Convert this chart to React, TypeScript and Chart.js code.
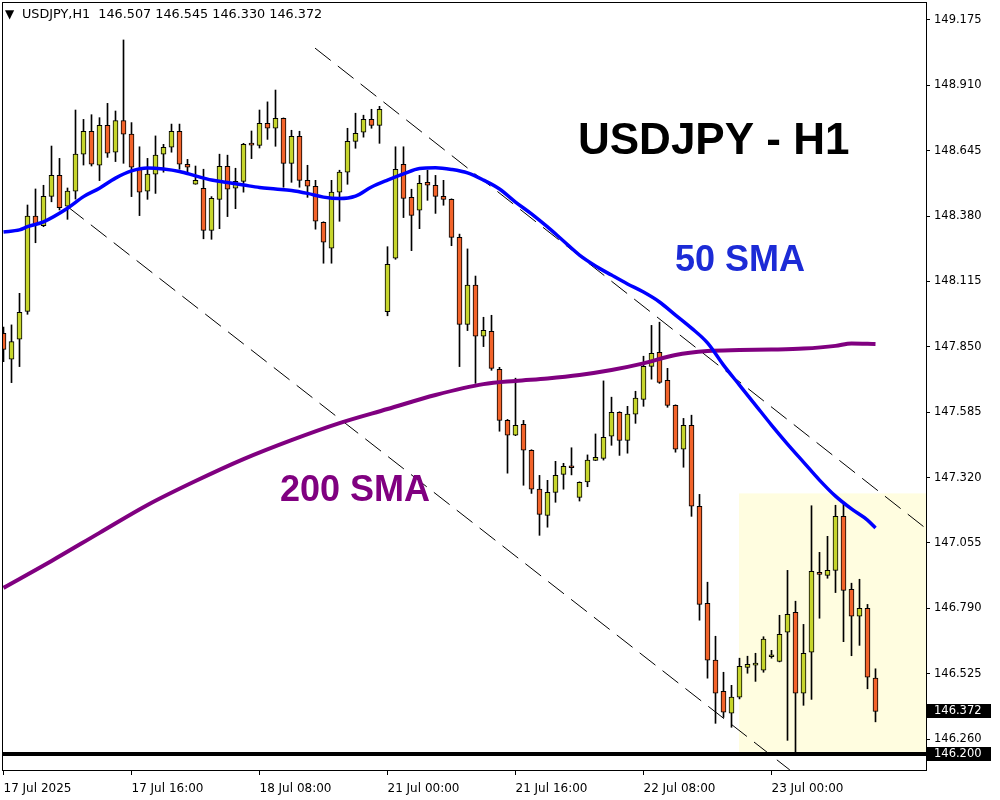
import { useEffect, useRef } from "react";
import { Chart, registerables } from "chart.js";

Chart.register(...registerables);

// ---------- header / labels ----------
const symbolTitle = "USDJPY,H1";
const lastQuote = ["146.507", "146.545", "146.330", "146.372"];
const bigTitle = "USDJPY - H1";
const sma50Label = "50 SMA";
const sma200Label = "200 SMA";

// ---------- time axis ----------
const timeTickIndex = [0, 16, 32, 48, 64, 80, 96];
const timeTickLabels = [
  "17 Jul 2025",
  "17 Jul 16:00",
  "18 Jul 08:00",
  "21 Jul 00:00",
  "21 Jul 16:00",
  "22 Jul 08:00",
  "23 Jul 00:00",
];

// ---------- price axis ----------
const priceTicks = [
  149.175, 148.91, 148.645, 148.38, 148.115, 147.85, 147.585, 147.32, 147.055,
  146.79, 146.525, 146.26,
];
const priceMin = 146.1348;
const priceMax = 149.2438;

// ---------- H1 candles (bar index 0..109) ----------
const opens = [
  147.905, 147.8, 147.881, 147.994, 148.38, 148.341, 148.46, 148.545, 148.42, 148.481,
  148.631, 148.724, 148.586, 148.748, 148.639, 148.767, 148.712, 148.574, 148.481, 148.55,
  148.631, 148.659, 148.724, 148.59, 148.509, 148.493, 148.322, 148.448, 148.582, 148.493,
  148.521, 148.671, 148.667, 148.756, 148.736, 148.776, 148.594, 148.703, 148.525, 148.501,
  148.355, 148.25, 148.477, 148.558, 148.683, 148.72, 148.772, 148.748, 147.993, 148.209,
  148.59, 148.456, 148.404, 148.517, 148.505, 148.46, 148.448, 148.294, 147.941, 148.1,
  147.893, 147.913, 147.759, 147.552, 147.492, 147.536, 147.431, 147.273, 147.167, 147.26,
  147.333, 147.362, 147.24, 147.303, 147.39, 147.398, 147.488, 147.585, 147.471, 147.577,
  147.637, 147.771, 147.828, 147.714, 147.613, 147.435, 147.532, 147.204, 146.81, 146.58,
  146.454, 146.365, 146.43, 146.551, 146.56, 146.539, 146.594, 146.575, 146.693, 146.774,
  146.446, 146.612, 146.936, 146.924, 146.944, 147.163, 146.867, 146.758, 146.79, 146.507,
];
const highs = [
  147.93, 147.939, 148.067, 148.425, 148.49, 148.505, 148.664, 148.614, 148.494, 148.81,
  148.772, 148.791, 148.779, 148.837, 148.806, 149.094, 148.759, 148.661, 148.614, 148.705,
  148.671, 148.753, 148.753, 148.61, 148.583, 148.57, 148.459, 148.631, 148.627, 148.574,
  148.675, 148.725, 148.81, 148.843, 148.891, 148.778, 148.728, 148.724, 148.586, 148.525,
  148.357, 148.525, 148.566, 148.736, 148.797, 148.789, 148.813, 148.825, 148.256, 148.661,
  148.661, 148.489, 148.545, 148.566, 148.545, 148.525, 148.45, 148.307, 148.247, 148.137,
  147.97, 147.978, 147.767, 147.556, 147.723, 147.552, 147.433, 147.329, 147.309, 147.386,
  147.378, 147.441, 147.303, 147.412, 147.497, 147.712, 147.646, 147.587, 147.609, 147.67,
  147.812, 147.937, 147.95, 147.763, 147.615, 147.56, 147.573, 147.252, 146.896, 146.677,
  146.531, 146.478, 146.588, 146.596, 146.608, 146.675, 146.62, 146.762, 146.944, 146.819,
  146.725, 147.206, 147.017, 147.082, 147.208, 147.22, 146.892, 146.908, 146.806, 146.545,
];
const lows = [
  147.79, 147.705, 147.77, 147.982, 148.272, 148.337, 148.438, 148.405, 148.367, 148.449,
  148.587, 148.583, 148.524, 148.618, 148.601, 148.594, 148.459, 148.382, 148.448, 148.472,
  148.558, 148.639, 148.57, 148.554, 148.509, 148.288, 148.286, 148.329, 148.378, 148.41,
  148.477, 148.613, 148.656, 148.691, 148.663, 148.497, 148.517, 148.497, 148.456, 148.327,
  148.189, 148.189, 148.359, 148.509, 148.655, 148.7, 148.736, 148.675, 147.976, 148.205,
  148.374, 148.24, 148.329, 148.444, 148.391, 148.424, 148.26, 147.77, 147.916, 147.702,
  147.851, 147.755, 147.508, 147.338, 147.49, 147.289, 147.256, 147.086, 147.119, 147.22,
  147.273, 147.331, 147.225, 147.283, 147.389, 147.391, 147.451, 147.41, 147.419, 147.54,
  147.609, 147.719, 147.702, 147.605, 147.423, 147.362, 147.163, 146.742, 146.507, 146.324,
  146.348, 146.308, 146.423, 146.527, 146.494, 146.531, 146.588, 146.573, 146.255, 146.209,
  146.397, 146.421, 146.75, 146.912, 146.854, 146.655, 146.598, 146.64, 146.464, 146.33,
];
const closes = [
  147.84, 147.871, 147.99, 148.38, 148.348, 148.46, 148.545, 148.414, 148.481, 148.631,
  148.724, 148.59, 148.748, 148.635, 148.767, 148.712, 148.578, 148.477, 148.55, 148.627,
  148.659, 148.724, 148.59, 148.578, 148.525, 148.322, 148.452, 148.582, 148.489, 148.521,
  148.671, 148.668, 148.756, 148.736, 148.776, 148.594, 148.703, 148.525, 148.501, 148.359,
  148.274, 148.477, 148.558, 148.683, 148.716, 148.772, 148.748, 148.813, 148.185, 148.57,
  148.452, 148.383, 148.513, 148.505, 148.46, 148.448, 148.294, 147.941, 148.1, 147.893,
  147.917, 147.763, 147.552, 147.492, 147.532, 147.431, 147.273, 147.171, 147.26, 147.329,
  147.366, 147.36, 147.301, 147.391, 147.402, 147.483, 147.585, 147.471, 147.577, 147.642,
  147.771, 147.824, 147.706, 147.613, 147.435, 147.532, 147.204, 146.806, 146.58, 146.446,
  146.369, 146.43, 146.555, 146.563, 146.562, 146.665, 146.596, 146.685, 146.766, 146.446,
  146.608, 146.94, 146.928, 146.944, 147.163, 146.863, 146.758, 146.79, 146.511, 146.372,
];

// ---------- moving averages ----------
const sma50Index = [
  0, 2, 3, 5, 8, 10, 12, 14, 16, 18, 20, 22, 24, 26, 28, 30, 32, 34, 36, 38, 40, 42, 44,
  46, 48, 50, 52, 54, 56, 58, 60, 62, 64, 66, 68, 70, 72, 74, 76, 78, 80, 82, 84, 86, 88,
  90, 92, 94, 96, 98, 100, 102, 104, 106, 108, 109,
];
const sma50Values = [
  148.316, 148.324, 148.337, 148.357, 148.412, 148.459, 148.493, 148.534, 148.563, 148.575,
  148.571, 148.561, 148.543, 148.526, 148.516, 148.506, 148.496, 148.49, 148.484, 148.472,
  148.457, 148.451, 148.461, 148.498, 148.526, 148.551, 148.573, 148.576, 148.569, 148.555,
  148.526, 148.49, 148.437, 148.389, 148.336, 148.279, 148.222, 148.178, 148.141, 148.105,
  148.072, 148.032, 147.979, 147.926, 147.866, 147.776, 147.695, 147.614, 147.533, 147.456,
  147.383, 147.31, 147.245, 147.193, 147.148, 147.116,
];
const sma200Index = [
  0, 6, 12, 18, 24, 30, 36, 42, 48, 54, 60, 64, 68, 72, 76, 80, 84, 88, 92, 96, 100, 104,
  106, 109,
];
const sma200Values = [
  146.873, 146.982, 147.096, 147.209, 147.306, 147.395, 147.472, 147.541, 147.598, 147.655,
  147.699, 147.712, 147.722, 147.736, 147.756, 147.783, 147.817, 147.833, 147.837, 147.839,
  147.843, 147.854, 147.864, 147.862,
];

// ---------- drawn objects ----------
const upperChannelIndex = [38.94, 115.3];
const upperChannelPrice = [149.061, 147.114];
const lowerChannelIndex = [8.06, 98.29];
const lowerChannelPrice = [148.417, 146.135];
const supportLevel = 146.2;
const lastPrice = 146.372;
const zoneStartIndex = 91.94;
const zoneTop = 147.256;
const zoneBottom = 146.2;

const BULL = "#c6d52c";
const BEAR = "#f2632a";

export default function App() {
  const ref = useRef<HTMLCanvasElement | null>(null);

  useEffect(() => {
    if (!ref.current) return;
    Chart.defaults.font.family = "'DejaVu Sans', sans-serif";

    const idx = opens.map((_, i) => i);
    const wickData = idx.map((i) => ({ x: i, y: [lows[i], highs[i]] }));
    const bodyData = idx.map((i) => ({
      x: i,
      y: [Math.min(opens[i], closes[i]), Math.max(opens[i], closes[i])],
    }));
    const bodyColors = idx.map((i) => (closes[i] >= opens[i] ? BULL : BEAR));

    const overlay = {
      id: "overlay",
      beforeDatasetsDraw(chart: any) {
        const { ctx, chartArea: a, scales } = chart;
        const x = scales.x;
        const y = scales.y;
        ctx.save();
        const l = x.getPixelForValue(zoneStartIndex);
        const t = y.getPixelForValue(zoneTop);
        const b = y.getPixelForValue(zoneBottom);
        ctx.fillStyle = "#fffde0";
        ctx.fillRect(l, t, a.right - l, b - t);
        ctx.restore();
      },
      afterDatasetsDraw(chart: any) {
        const { ctx } = chart;
        ctx.save();
        ctx.textBaseline = "alphabetic";
        ctx.textAlign = "left";
        ctx.fillStyle = "#000000";
        ctx.font = "bold 44px 'Liberation Sans', Arial, sans-serif";
        ctx.fillText(bigTitle, 578, 154);
        ctx.fillStyle = "#1c2bd6";
        ctx.font = "bold 36px 'Liberation Sans', Arial, sans-serif";
        ctx.fillText(sma50Label, 675, 271);
        ctx.fillStyle = "#800080";
        ctx.fillText(sma200Label, 280, 501);
        ctx.restore();
      },
      afterDraw(chart: any) {
        const { ctx, chartArea: a, scales } = chart;
        const y = scales.y;
        ctx.save();
        // frame
        ctx.strokeStyle = "#000";
        ctx.lineWidth = 1;
        ctx.strokeRect(a.left - 0.5, a.top - 0.5, a.right - a.left + 1, a.bottom - a.top + 1);
        // header
        ctx.fillStyle = "#000";
        ctx.textBaseline = "middle";
        ctx.font = "12px 'DejaVu Sans', sans-serif";
        ctx.fillText("\u25BC", 5, 15);
        ctx.font = "12.8px 'DejaVu Sans', sans-serif";
        ctx.fillText(symbolTitle + "  " + lastQuote.join(" "), 22, 15);
        // price boxes
        ctx.font = "11.5px 'DejaVu Sans', sans-serif";
        [lastPrice, supportLevel].forEach((v) => {
          const py = Math.round(y.getPixelForValue(v));
          ctx.fillStyle = "#000";
          ctx.fillRect(a.right + 1, py - 7, 64, 14);
          ctx.fillStyle = "#fff";
          ctx.fillText(v.toFixed(3), a.right + 8, py + 0.5);
        });
        ctx.restore();
      },
    };

    const chart = new Chart(ref.current, {
      type: "bar",
      data: {
        datasets: [
          {
            type: "line",
            label: "SMA50",
            data: sma50Index.map((x, k) => ({ x, y: sma50Values[k] })),
            borderColor: "#0000ff",
            borderWidth: 3.5,
            pointRadius: 0,
            tension: 0.4,
            cubicInterpolationMode: "monotone",
            order: 0,
          } as any,
          {
            type: "line",
            label: "SMA200",
            data: sma200Index.map((x, k) => ({ x, y: sma200Values[k] })),
            borderColor: "#800080",
            borderWidth: 4,
            pointRadius: 0,
            tension: 0.4,
            cubicInterpolationMode: "monotone",
            order: 0,
          } as any,
          {
            type: "line",
            label: "support",
            data: [
              { x: -1, y: supportLevel },
              { x: 120, y: supportLevel },
            ],
            borderColor: "#000",
            borderWidth: 4,
            pointRadius: 0,
            order: 1,
          } as any,
          {
            type: "line",
            label: "upper",
            data: upperChannelIndex.map((x, k) => ({ x, y: upperChannelPrice[k] })),
            borderColor: "#000",
            borderWidth: 1,
            borderDash: [20, 9],
            pointRadius: 0,
            order: 2,
          } as any,
          {
            type: "line",
            label: "lower",
            data: lowerChannelIndex.map((x, k) => ({ x, y: lowerChannelPrice[k] })),
            borderColor: "#000",
            borderWidth: 1,
            borderDash: [20, 9],
            pointRadius: 0,
            order: 2,
          } as any,
          {
            type: "bar",
            label: "body",
            data: bodyData as any,
            backgroundColor: bodyColors,
            borderColor: "#000",
            borderWidth: 1,
            borderSkipped: false,
            barThickness: 5,
            minBarLength: 2,
            grouped: false,
            order: 3,
          } as any,
          {
            type: "bar",
            label: "wick",
            data: wickData as any,
            backgroundColor: "#000",
            borderWidth: 0,
            barThickness: 1,
            grouped: false,
            order: 4,
          } as any,
        ],
      },
      options: {
        responsive: false,
        animation: false,
        devicePixelRatio: 1,
        layout: { padding: { left: 3, top: 3, right: 0, bottom: 0 } },
        plugins: { legend: { display: false }, tooltip: { enabled: false } },
        scales: {
          x: {
            type: "linear",
            position: "bottom",
            min: -0.0625,
            max: 115.3125,
            offset: false,
            border: { display: false },
            grid: {
              drawOnChartArea: false,
              drawTicks: true,
              tickLength: 5,
              color: "#000",
              offset: false,
            },
            ticks: {
              autoSkip: false,
              maxRotation: 0,
              minRotation: 0,
              align: "start",
              padding: 7,
              color: "#000",
              font: { size: 12 },
              callback: (v: any) => {
                const k = timeTickIndex.indexOf(Number(v));
                return k >= 0 ? timeTickLabels[k] : "";
              },
            },
            afterBuildTicks: (s: any) => {
              s.ticks = timeTickIndex.map((v) => ({ value: v }));
            },
            afterFit: (s: any) => {
              s.height = 30;
              s.paddingLeft = 0;
              s.paddingRight = 0;
            },
          } as any,
          y: {
            type: "linear",
            position: "right",
            min: priceMin,
            max: priceMax,
            border: { display: false },
            grid: {
              drawOnChartArea: false,
              drawTicks: true,
              tickLength: 4,
              color: "#000",
            },
            ticks: {
              padding: 4,
              color: "#000",
              font: { size: 11.5 },
              callback: (v: any) => Number(v).toFixed(3),
            },
            afterBuildTicks: (s: any) => {
              s.ticks = priceTicks.map((v) => ({ value: v }));
            },
            afterFit: (s: any) => {
              s.width = 74;
              s.paddingTop = 0;
              s.paddingBottom = 0;
            },
          } as any,
        },
      },
      plugins: [overlay],
    });

    return () => chart.destroy();
  }, []);

  return (
    <div style={{ position: "absolute", left: 0, top: 0, width: 1000, height: 800, background: "#fff" }}>
      <canvas ref={ref} width={1000} height={800} style={{ display: "block" }} />
    </div>
  );
}
